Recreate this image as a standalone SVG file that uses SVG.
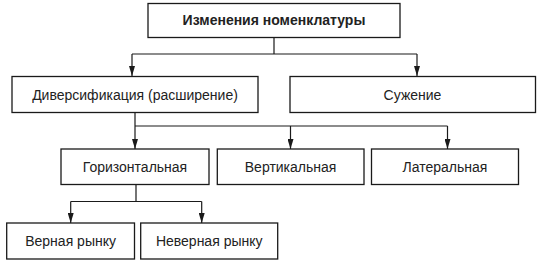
<svg xmlns="http://www.w3.org/2000/svg" width="542" height="266" viewBox="0 0 542 266">
<style>
.box{fill:#fff;stroke:#1a1a1a;stroke-width:1.3}
.t{font-family:"Liberation Sans",Arial,sans-serif;font-size:14px;fill:#222;text-anchor:middle}
.b{font-weight:bold}
.c{fill:none;stroke:#1a1a1a;stroke-width:1.2}
</style>
<defs>
<marker id="ah" markerWidth="10" markerHeight="6" refX="10" refY="3" orient="auto" markerUnits="userSpaceOnUse" viewBox="0 0 10 6">
<path d="M0,0 L10,3 L0,6 Z" fill="#1a1a1a"/>
</marker>
</defs>
<rect width="542" height="266" fill="#fff"/>
<g id="connectors">
<path class="c" d="M274,37.5 V54 M132,54 H417"/>
<line class="c" x1="132" y1="54" x2="132" y2="76" marker-end="url(#ah)"/>
<line class="c" x1="417" y1="54" x2="417" y2="76" marker-end="url(#ah)"/>
<path class="c" d="M135,112.5 V126 M135,126 H447.5"/>
<line class="c" x1="135" y1="126" x2="135" y2="149" marker-end="url(#ah)"/>
<line class="c" x1="290.5" y1="126" x2="290.5" y2="149" marker-end="url(#ah)"/>
<line class="c" x1="447.5" y1="126" x2="447.5" y2="149" marker-end="url(#ah)"/>
<path class="c" d="M136,184.5 V201.5 M70.7,201.5 H201.7"/>
<line class="c" x1="70.7" y1="201.5" x2="70.7" y2="223" marker-end="url(#ah)"/>
<line class="c" x1="201.7" y1="201.5" x2="201.7" y2="223" marker-end="url(#ah)"/>
</g>
<g id="n-root"><rect class="box" x="148" y="3.5" width="252" height="34"/><text class="t b" x="274" y="25">Изменения номенклатуры</text></g>
<g id="n-div"><rect class="box" x="12" y="76.5" width="246" height="36"/><text class="t" x="135" y="99.5">Диверсификация (расширение)</text></g>
<g id="n-narrow"><rect class="box" x="290" y="76.5" width="245.5" height="36"/><text class="t" x="412.5" y="99.5">Сужение</text></g>
<g id="n-hor"><rect class="box" x="61" y="149" width="148" height="35.5"/><text class="t" x="135" y="171.5">Горизонтальная</text></g>
<g id="n-vert"><rect class="box" x="217.3" y="149" width="146.7" height="35.5"/><text class="t" x="290.6" y="171.5">Вертикальная</text></g>
<g id="n-lat"><rect class="box" x="371.5" y="149" width="147" height="35.5"/><text class="t" x="445" y="171.5">Латеральная</text></g>
<g id="n-true"><rect class="box" x="6.7" y="223" width="127.8" height="36"/><text class="t" x="70.6" y="245.5">Верная рынку</text></g>
<g id="n-false"><rect class="box" x="140.7" y="223" width="137" height="36"/><text class="t" x="209.2" y="245.5">Неверная рынку</text></g>
</svg>
